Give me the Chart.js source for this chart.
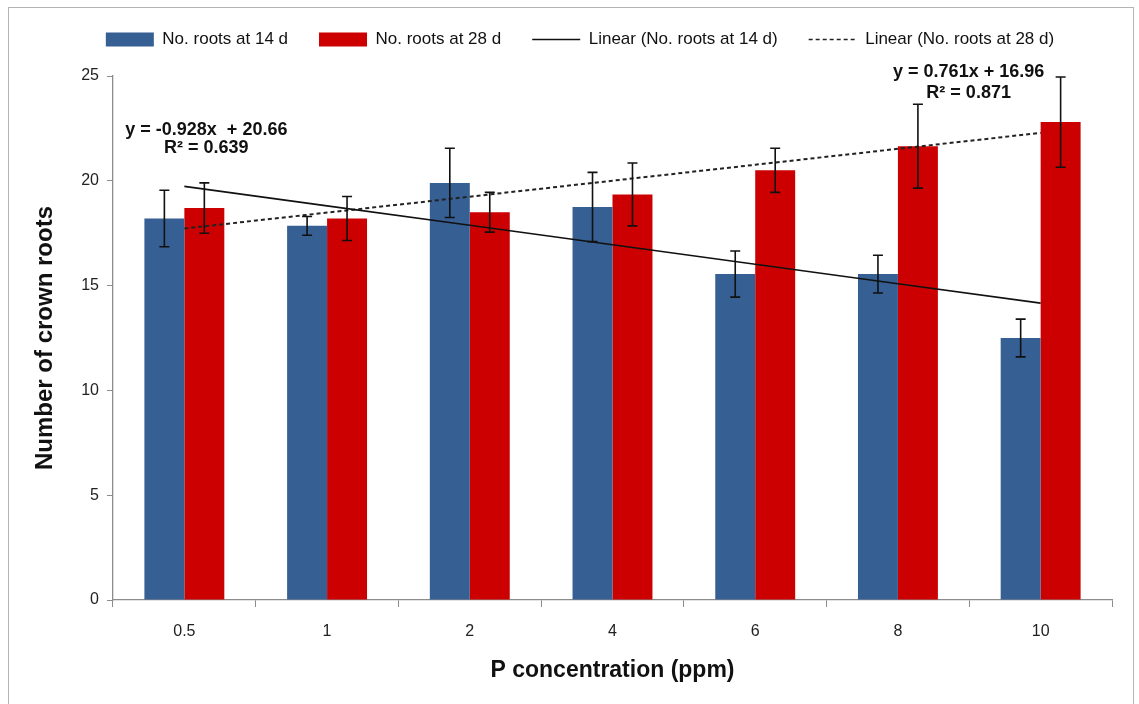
<!DOCTYPE html>
<html>
<head>
<meta charset="utf-8">
<title>Crown roots vs P concentration</title>
<script src="https://cdn.jsdelivr.net/npm/chart.js@4/dist/chart.umd.min.js"></script>
<style>
    html, body { margin: 0; padding: 0; background: #fff; }
    .frame {
        position: absolute; left: 8px; top: 7px; width: 1126px; height: 700px;
        border: 1px solid #b4b4b4; box-sizing: border-box;
    }
    #wrap { position: absolute; left: 0; top: 0; width: 1139px; height: 704px; }
</style>
</head>
<body>
<div class="frame"></div>
<div id="wrap"><canvas id="roots"></canvas></div>
<script>
var categories = ["0.5", "1", "2", "4", "6", "8", "10"];
var roots14 = [18.2, 17.85, 19.9, 18.75, 15.55, 15.55, 12.5];
var roots28 = [18.7, 18.2, 18.5, 19.35, 20.5, 21.65, 22.8];
var err14 = [1.35, 0.45, 1.65, 1.65, 1.1, 0.9, 0.9];
var err28 = [1.2, 1.05, 0.95, 1.5, 1.05, 2.0, 2.15];

// Excel-style linear fits over the category index (1..7)
var fit14 = { slope: -0.928, intercept: 20.66, r2: "0.639" };
var fit28 = { slope: 0.761, intercept: 16.96, r2: "0.871" };

var FONT = '"Liberation Sans", Arial, sans-serif';

function trend(fit) {
    return categories.map(function (c, i) {
        return fit.slope * (i + 1) + fit.intercept;
    });
}

var errorBars = {
    id: 'errorBars',
    afterDatasetsDraw: function (chart) {
        var ctx = chart.ctx;
        var y = chart.scales.y;
        [[0, err14], [1, err28]].forEach(function (pair) {
            var meta = chart.getDatasetMeta(pair[0]);
            var values = chart.data.datasets[pair[0]].data;
            ctx.save();
            ctx.strokeStyle = '#111';
            ctx.lineWidth = 1.6;
            meta.data.forEach(function (bar, i) {
                var top = y.getPixelForValue(values[i] + pair[1][i]);
                var bot = y.getPixelForValue(values[i] - pair[1][i]);
                ctx.beginPath();
                ctx.moveTo(bar.x, top); ctx.lineTo(bar.x, bot);
                ctx.moveTo(bar.x - 5, top); ctx.lineTo(bar.x + 5, top);
                ctx.moveTo(bar.x - 5, bot); ctx.lineTo(bar.x + 5, bot);
                ctx.stroke();
            });
            ctx.restore();
        });
    }
};

var equations = {
    id: 'equations',
    afterDraw: function (chart) {
        var ctx = chart.ctx;
        var x = chart.scales.x, y = chart.scales.y;
        ctx.save();
        ctx.fillStyle = '#111';
        ctx.font = 'bold 18px ' + FONT;
        ctx.textAlign = 'center';
        ctx.textBaseline = 'middle';
        var x1 = x.getPixelForValue(0) + 22;
        ctx.fillText('y = -0.928x  + 20.66', x1, y.getPixelForValue(22.4));
        ctx.fillText('R\u00b2 = ' + fit14.r2, x1, y.getPixelForValue(21.55));
        var x2 = x.getPixelForValue(6) - 72;
        ctx.fillText('y = 0.761x + 16.96', x2, y.getPixelForValue(25.2));
        ctx.fillText('R\u00b2 = ' + fit28.r2, x2, y.getPixelForValue(24.2));
        ctx.restore();
    }
};

// fixed legend band height, and the legend row nudged right over the plot
var legendBand = {
    id: 'legendBand',
    afterInit: function (chart) {
        var lg = chart.legend;
        var fit = lg.fit;
        lg.fit = function () { fit.call(this); this.height = 76; };
    },
    afterLayout: function (chart) {
        chart.legend.left += 24;
        chart.legend.right += 24;
    }
};

var canvas = document.getElementById('roots');
canvas.width = 1139;
canvas.height = 704;

new Chart(canvas, {
    type: 'bar',
    data: {
        labels: categories,
        datasets: [{
            label: 'No. roots at 14 d',
            data: roots14,
            backgroundColor: '#365f93',
            categoryPercentage: 0.56,
            barPercentage: 1.0,
            order: 2
        }, {
            label: 'No. roots at 28 d',
            data: roots28,
            backgroundColor: '#cc0000',
            categoryPercentage: 0.56,
            barPercentage: 1.0,
            order: 2
        }, {
            type: 'line',
            label: 'Linear (No. roots at 14 d)',
            data: trend(fit14),
            borderColor: '#111',
            borderWidth: 1.6,
            pointRadius: 0,
            fill: false,
            order: 1
        }, {
            type: 'line',
            label: 'Linear (No. roots at 28 d)',
            data: trend(fit28),
            borderColor: '#222',
            borderWidth: 2,
            borderDash: [4, 3],
            pointRadius: 0,
            fill: false,
            order: 1
        }]
    },
    options: {
        responsive: false,
        animation: false,
        layout: { padding: { left: 0, right: 27, top: 0, bottom: 0 } },
        plugins: {
            tooltip: { enabled: false },
            legend: {
                position: 'top',
                labels: {
                    usePointStyle: true,
                    pointStyleWidth: 48,
                    boxHeight: 14,
                    padding: 31,
                    color: '#111',
                    font: { family: FONT, size: 17 },
                    generateLabels: function (chart) {
                        return chart.data.datasets.map(function (ds, i) {
                            var isLine = ds.type === 'line';
                            return {
                                text: ds.label,
                                datasetIndex: i,
                                fillStyle: isLine ? 'transparent' : ds.backgroundColor,
                                strokeStyle: isLine ? ds.borderColor : ds.backgroundColor,
                                lineWidth: isLine ? 1.6 : 0,
                                lineDash: ds.borderDash || [],
                                pointStyle: isLine ? 'line' : 'rect',
                                fontColor: '#111'
                            };
                        });
                    }
                }
            }
        },
        scales: {
            x: {
                grid: {
                    offset: true,
                    drawOnChartArea: false,
                    tickLength: 7,
                    color: '#8c8c8c'
                },
                border: { color: '#8c8c8c', width: 1.3 },
                ticks: {
                    color: '#222',
                    padding: 15,
                    font: { family: FONT, size: 16 }
                },
                title: {
                    display: true,
                    text: 'P concentration (ppm)',
                    color: '#111',
                    padding: { top: 6, bottom: 20 },
                    font: { family: FONT, size: 23, weight: 'bold' }
                },
                afterFit: function (scale) { scale.height = 104; }
            },
            y: {
                min: 0,
                max: 25,
                ticks: {
                    stepSize: 5,
                    color: '#222',
                    padding: 8,
                    font: { family: FONT, size: 16 }
                },
                grid: {
                    drawOnChartArea: false,
                    tickLength: 6,
                    color: '#8c8c8c'
                },
                border: { color: '#8c8c8c', width: 1.3 },
                title: {
                    display: true,
                    text: 'Number of crown roots',
                    color: '#111',
                    padding: { top: 31, bottom: 0 },
                    font: { family: FONT, size: 24, weight: 'bold' }
                },
                afterFit: function (scale) { scale.width = 113; }
            }
        }
    },
    plugins: [errorBars, equations, legendBand]
});
</script>
</body>
</html>
